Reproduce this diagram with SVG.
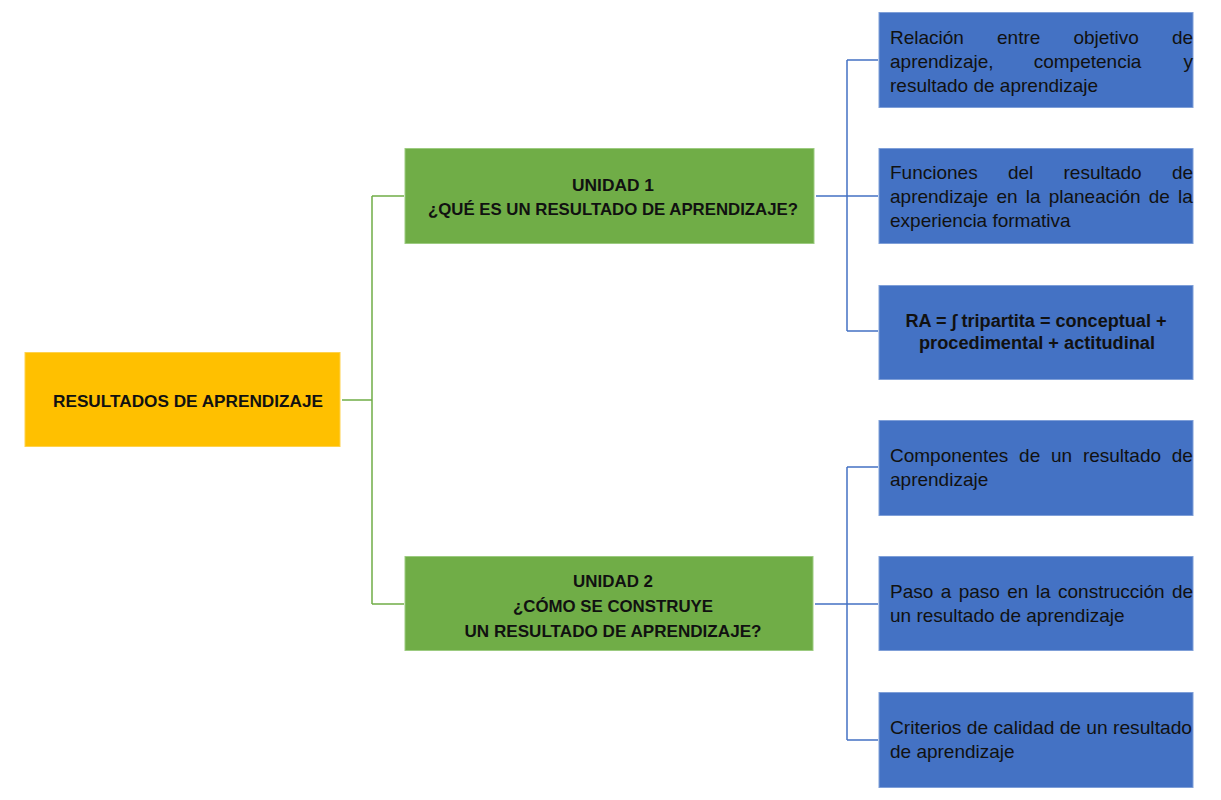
<svg xmlns="http://www.w3.org/2000/svg" width="1221" height="800" viewBox="0 0 1221 800">
<style>
.root{fill:#FFC000;stroke:#FFD24D;stroke-width:1}
.unit{fill:#70AD47;stroke:#9CCB80;stroke-width:1}
.leaf{fill:#4472C4;stroke:#7F9FD8;stroke-width:1}
.t{font-family:"Liberation Sans",Arial,sans-serif;fill:#111}
.b{font-weight:bold;font-size:16.5px}
.n{font-size:19px}
.g{stroke:#70AD47;stroke-width:1.5;fill:none}
.bl{stroke:#4472C4;stroke-width:1.5;fill:none}
</style>
<rect width="1221" height="800" fill="#FFFFFF"/>
<g id="connectors">
<path class="g" d="M342,400 H372 M372,196 V604 M372,196 H404 M372,604 H404"/>
<path class="bl" d="M816,196 H847 M847,60 V331 M847,60 H878 M847,196 H878 M847,331 H878"/>
<path class="bl" d="M815,604 H847 M847,467 V740 M847,467 H878 M847,604 H878 M847,740 H878"/>
</g>
<g id="root">
<rect class="root" x="25" y="352.5" width="315" height="94"/>
<text class="t b" x="188" y="407" text-anchor="middle" textLength="270" lengthAdjust="spacingAndGlyphs">RESULTADOS DE APRENDIZAJE</text>
</g>
<g id="unit1">
<rect class="unit" x="405" y="148.5" width="409" height="95"/>
<text class="t b" x="613" y="191" text-anchor="middle" textLength="82" lengthAdjust="spacingAndGlyphs">UNIDAD 1</text>
<text class="t b" x="613" y="215" text-anchor="middle" textLength="370" lengthAdjust="spacingAndGlyphs">¿QUÉ ES UN RESULTADO DE APRENDIZAJE?</text>
</g>
<g id="unit2">
<rect class="unit" x="405" y="556.5" width="408" height="94"/>
<text class="t b" x="613" y="587" text-anchor="middle" textLength="80" lengthAdjust="spacingAndGlyphs">UNIDAD 2</text>
<text class="t b" x="613" y="612" text-anchor="middle" textLength="200" lengthAdjust="spacingAndGlyphs">¿CÓMO SE CONSTRUYE</text>
<text class="t b" x="613" y="637" text-anchor="middle" textLength="297" lengthAdjust="spacingAndGlyphs">UN RESULTADO DE APRENDIZAJE?</text>
</g>
<g id="leaf1">
<rect class="leaf" x="879" y="12.5" width="314" height="95"/>
<text class="t n" y="44"><tspan x="890">Relación</tspan><tspan x="997">entre</tspan><tspan x="1073.4">objetivo</tspan><tspan x="1172">de</tspan></text>
<text class="t n" y="68"><tspan x="890">aprendizaje,</tspan><tspan x="1033.7">competencia</tspan><tspan x="1183.5">y</tspan></text>
<text class="t n" x="890" y="92">resultado de aprendizaje</text>
</g>
<g id="leaf2">
<rect class="leaf" x="879" y="148.5" width="314" height="95"/>
<text class="t n" y="179"><tspan x="890">Funciones</tspan><tspan x="1007.9">del</tspan><tspan x="1063.5">resultado</tspan><tspan x="1171.9">de</tspan></text>
<text class="t n" y="203"><tspan x="890">aprendizaje</tspan><tspan x="996.4">en</tspan><tspan x="1025.7">la</tspan><tspan x="1048.7">planeación</tspan><tspan x="1148.8">de</tspan><tspan x="1178.1">la</tspan></text>
<text class="t n" x="890" y="227">experiencia formativa</text>
</g>
<g id="leaf3">
<rect class="leaf" x="879" y="285.5" width="314" height="94"/>
<text class="t" style="font-weight:bold;font-size:18px" x="1036" y="327" text-anchor="middle" textLength="261" lengthAdjust="spacingAndGlyphs">RA = ∫ tripartita = conceptual +</text>
<text class="t" style="font-weight:bold;font-size:18px" x="1037" y="349" text-anchor="middle" textLength="236" lengthAdjust="spacingAndGlyphs">procedimental + actitudinal</text>
</g>
<g id="leaf4">
<rect class="leaf" x="879" y="420.5" width="314" height="95"/>
<text class="t n" y="462"><tspan x="890">Componentes</tspan><tspan x="1019.1">de</tspan><tspan x="1051">un</tspan><tspan x="1082.9">resultado</tspan><tspan x="1171.8">de</tspan></text>
<text class="t n" x="890" y="486">aprendizaje</text>
</g>
<g id="leaf5">
<rect class="leaf" x="879" y="556.5" width="314" height="94"/>
<text class="t n" y="598"><tspan x="890">Paso</tspan><tspan x="940.7">a</tspan><tspan x="958.7">paso</tspan><tspan x="1007.3">en</tspan><tspan x="1035.8">la</tspan><tspan x="1058">construcción</tspan><tspan x="1172">de</tspan></text>
<text class="t n" x="890" y="622">un resultado de aprendizaje</text>
</g>
<g id="leaf6">
<rect class="leaf" x="879" y="692.5" width="314" height="95"/>
<text class="t n" x="890" y="734" textLength="302" lengthAdjust="spacingAndGlyphs">Criterios de calidad de un resultado</text>
<text class="t n" x="890" y="758">de aprendizaje</text>
</g>
</svg>
